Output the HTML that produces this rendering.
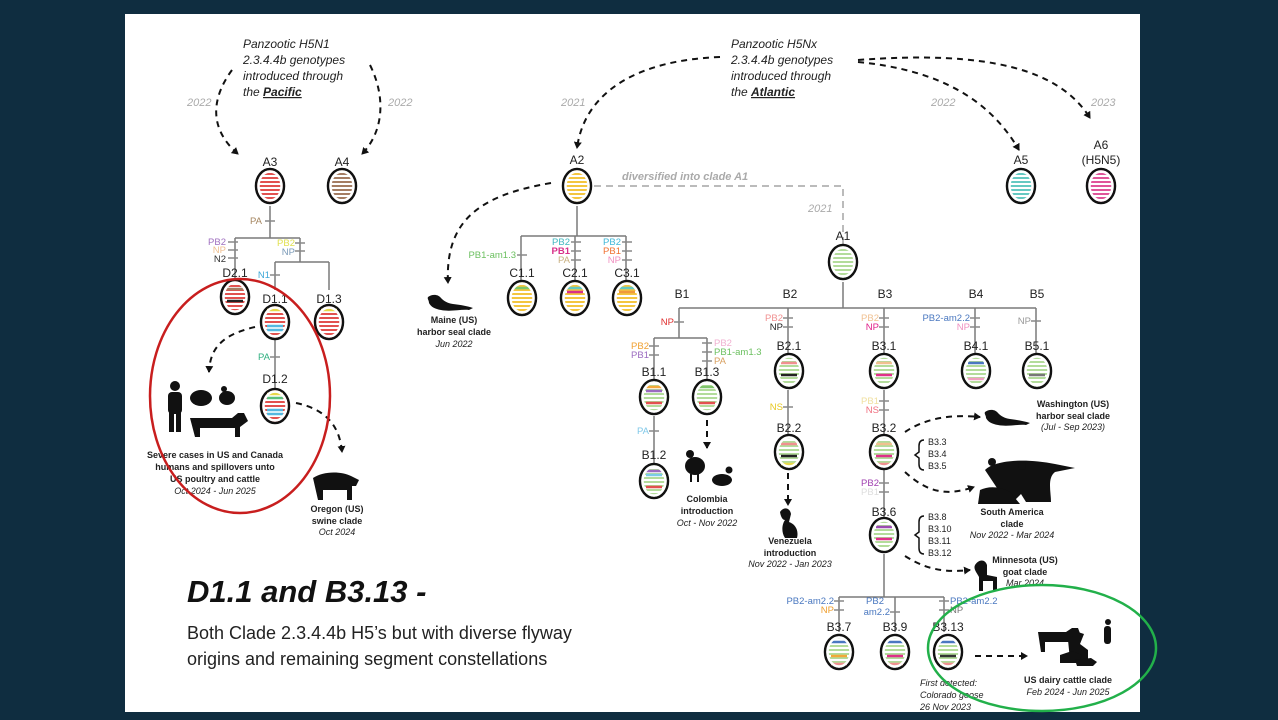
<!DOCTYPE html>
<html><head><meta charset="utf-8"><style>
html,body{margin:0;padding:0;background:#0f2d40;width:1278px;height:720px;overflow:hidden}
svg{display:block}
text{font-family:"Liberation Sans",Arial,sans-serif}
.n{font-size:12px;fill:#222}
.m{font-size:9.5px}
.it{font-style:italic}
.b{font-weight:bold}
.yr{font-size:11px;font-style:italic;fill:#aaa}
</style></head><body>
<svg width="1278" height="720" viewBox="0 0 1278 720" xmlns="http://www.w3.org/2000/svg">
<defs>
<pattern id="pr" width="4" height="4" patternUnits="userSpaceOnUse"><rect width="4" height="4" fill="#fff"/><rect y="1" width="4" height="2" fill="#e2514f"/></pattern>
<pattern id="pbr" width="4" height="4" patternUnits="userSpaceOnUse"><rect width="4" height="4" fill="#fff"/><rect y="1" width="4" height="2" fill="#a57d63"/></pattern>
<pattern id="py" width="4" height="4" patternUnits="userSpaceOnUse"><rect width="4" height="4" fill="#fff"/><rect y="1" width="4" height="2" fill="#f4c63f"/></pattern>
<pattern id="pt" width="4" height="4" patternUnits="userSpaceOnUse"><rect width="4" height="4" fill="#fff"/><rect y="1" width="4" height="2" fill="#64c9c2"/></pattern>
<pattern id="pp" width="4" height="4" patternUnits="userSpaceOnUse"><rect width="4" height="4" fill="#fff"/><rect y="1" width="4" height="2" fill="#e0559a"/></pattern>
<pattern id="pg" width="4" height="4" patternUnits="userSpaceOnUse"><rect width="4" height="4" fill="#fff"/><rect y="1" width="4" height="2" fill="#b3dc9b"/></pattern>
<marker id="ah" markerWidth="8" markerHeight="8" refX="6" refY="4" orient="auto" markerUnits="userSpaceOnUse"><path d="M0,0 L7,4 L0,8 Z" fill="#111"/></marker>
</defs>
<rect x="125" y="14" width="1015" height="698" fill="#fff"/>

<g stroke="#7a7a7a" stroke-width="1.5" fill="none">
<path d="M270 206V238M235 238H300M235 238V280M300 238V262M275 262H329M275 262V290M329 262V290M275 328V388"/>
<path d="M577 206V236M521 236H626M521 236V280M575 236V280M626 236V280"/>
<path d="M843 282V308M679 308H1036M679 308V338M654 338H707M654 338V379M707 338V379M654 416V465M788 308V353M788 390V434M884 308V353M884 390V434M884 470V517M884 554V597M839 597H944M839 597V632M895 597V632M944 597V632M975 308V353M1036 308V353"/>
</g>
<path d="M594 186H843V245" stroke="#bbb" stroke-width="2" stroke-dasharray="7,5" fill="none"/>
<text x="622" y="180" class="it b" font-size="11" fill="#aaa">diversified into clade A1</text>
<text x="808" y="212" class="yr">2021</text>

<g stroke="#111" stroke-width="2" stroke-dasharray="6,5" fill="none" marker-end="url(#ah)">
<path d="M232 70C210 100 210 130 238 154"/>
<path d="M370 65C385 95 385 130 362 154"/>
<path d="M720 57C640 60 585 90 577 148"/>
<path d="M858 62C940 70 990 100 1019 150"/>
<path d="M858 60C990 50 1060 70 1090 118"/>
<path d="M551 183C480 195 445 220 448 283"/>
<path d="M255 327C220 335 210 350 209 372"/>
<path d="M296 403C330 410 340 430 342 452"/>
<path d="M707 420V448"/>
<path d="M788 473V505"/>
<path d="M905 432C930 415 960 415 980 417"/>
<path d="M905 472C930 495 950 495 974 487"/>
<path d="M905 556C930 572 950 572 970 570"/>
<path d="M975 656H1027"/>
</g>

<g class="it" font-size="12" fill="#222">
<text x="243" y="48">Panzootic H5N1</text>
<text x="243" y="64">2.3.4.4b genotypes</text>
<text x="243" y="80">introduced through</text>
<text x="243" y="96">the <tspan font-weight="bold" text-decoration="underline">Pacific</tspan></text>
<text x="731" y="48">Panzootic H5Nx</text>
<text x="731" y="64">2.3.4.4b genotypes</text>
<text x="731" y="80">introduced through</text>
<text x="731" y="96">the <tspan font-weight="bold" text-decoration="underline">Atlantic</tspan></text>
</g>
<text x="187" y="106" class="yr">2022</text>
<text x="388" y="106" class="yr">2022</text>
<text x="561" y="106" class="yr">2021</text>
<text x="931" y="106" class="yr">2022</text>
<text x="1091" y="106" class="yr">2023</text>

<g class="n" text-anchor="middle">
<text x="270" y="166">A3</text><text x="342" y="166">A4</text><text x="577" y="164">A2</text>
<text x="1021" y="164">A5</text><text x="1101" y="149">A6</text><text x="1101" y="164">(H5N5)</text>
<text x="843" y="240">A1</text>
<text x="235" y="277">D2.1</text><text x="275" y="303">D1.1</text><text x="329" y="303">D1.3</text><text x="275" y="383">D1.2</text>
<text x="522" y="277">C1.1</text><text x="575" y="277">C2.1</text><text x="627" y="277">C3.1</text>
<text x="682" y="298">B1</text><text x="790" y="298">B2</text><text x="885" y="298">B3</text><text x="976" y="298">B4</text><text x="1037" y="298">B5</text>
<text x="654" y="376">B1.1</text><text x="707" y="376">B1.3</text><text x="654" y="459">B1.2</text>
<text x="789" y="350">B2.1</text><text x="789" y="432">B2.2</text>
<text x="884" y="350">B3.1</text><text x="884" y="432">B3.2</text><text x="884" y="516">B3.6</text>
<text x="976" y="350">B4.1</text><text x="1037" y="350">B5.1</text>
<text x="839" y="631">B3.7</text><text x="895" y="631">B3.9</text><text x="948" y="631">B3.13</text>
</g>

<g stroke="#111" stroke-width="2.5">
<ellipse cx="270" cy="186" rx="14" ry="17" fill="url(#pr)"/>
<ellipse cx="342" cy="186" rx="14" ry="17" fill="url(#pbr)"/>
<ellipse cx="577" cy="186" rx="14" ry="17" fill="url(#py)"/>
<ellipse cx="1021" cy="186" rx="14" ry="17" fill="url(#pt)"/>
<ellipse cx="1101" cy="186" rx="14" ry="17" fill="url(#pp)"/>
<ellipse cx="843" cy="262" rx="14" ry="17" fill="url(#pg)"/>
<ellipse cx="235" cy="297" rx="14" ry="17" fill="url(#pr)"/>
<ellipse cx="275" cy="322" rx="14" ry="17" fill="url(#pr)"/>
<ellipse cx="329" cy="322" rx="14" ry="17" fill="url(#pr)"/>
<ellipse cx="275" cy="406" rx="14" ry="17" fill="url(#pr)"/>
<ellipse cx="522" cy="298" rx="14" ry="17" fill="url(#py)"/>
<ellipse cx="575" cy="298" rx="14" ry="17" fill="url(#py)"/>
<ellipse cx="627" cy="298" rx="14" ry="17" fill="url(#py)"/>
<ellipse cx="654" cy="397" rx="14" ry="17" fill="url(#pg)"/>
<ellipse cx="707" cy="397" rx="14" ry="17" fill="url(#pg)"/>
<ellipse cx="654" cy="481" rx="14" ry="17" fill="url(#pg)"/>
<ellipse cx="789" cy="371" rx="14" ry="17" fill="url(#pg)"/>
<ellipse cx="789" cy="452" rx="14" ry="17" fill="url(#pg)"/>
<ellipse cx="884" cy="371" rx="14" ry="17" fill="url(#pg)"/>
<ellipse cx="884" cy="452" rx="14" ry="17" fill="url(#pg)"/>
<ellipse cx="884" cy="535" rx="14" ry="17" fill="url(#pg)"/>
<ellipse cx="976" cy="371" rx="14" ry="17" fill="url(#pg)"/>
<ellipse cx="1037" cy="371" rx="14" ry="17" fill="url(#pg)"/>
<ellipse cx="839" cy="652" rx="14" ry="17" fill="url(#pg)"/>
<ellipse cx="895" cy="652" rx="14" ry="17" fill="url(#pg)"/>
<ellipse cx="948" cy="652" rx="14" ry="17" fill="url(#pg)"/>
</g>
<g stroke-width="2.5">
<path d="M227 301h16" stroke="#222"/><path d="M227 289h16" stroke="#a57d63"/>
<path d="M267 310h16" stroke="#e8d84a"/><path d="M267 326h16" stroke="#55b8e0"/><path d="M267 330h16" stroke="#55b8e0"/>
<path d="M321 310h16" stroke="#e8d84a"/>
<path d="M267 394h16" stroke="#e8d84a"/><path d="M267 398h16" stroke="#5cc07c"/><path d="M267 410h16" stroke="#55b8e0"/><path d="M267 414h16" stroke="#55b8e0"/>
<path d="M514 288h16" stroke="#7fc66b"/>
<path d="M567 288h16" stroke="#64c9c2"/><path d="M567 292h16" stroke="#d8308a"/>
<path d="M619 288h16" stroke="#64c9c2"/><path d="M619 292h16" stroke="#f09a3a"/>
<path d="M646 387h16" stroke="#f2a93a"/><path d="M646 391h16" stroke="#9b6bc0"/><path d="M646 403h16" stroke="#e2514f"/>
<path d="M699 387h16" stroke="#7fc66b"/><path d="M699 403h16" stroke="#e2514f"/>
<path d="M646 471h16" stroke="#9b6bc0"/><path d="M646 475h16" stroke="#7ccbe8"/><path d="M646 487h16" stroke="#e2514f"/>
<path d="M781 363h16" stroke="#f09090"/><path d="M781 375h16" stroke="#222"/>
<path d="M781 444h16" stroke="#f09090"/><path d="M781 456h16" stroke="#222"/><path d="M781 464h16" stroke="#e8d84a"/>
<path d="M876 363h16" stroke="#f0c090"/><path d="M876 375h16" stroke="#e0308a"/>
<path d="M876 444h16" stroke="#f0c090"/><path d="M876 456h16" stroke="#e0308a"/><path d="M876 464h16" stroke="#f09090"/>
<path d="M876 527h16" stroke="#9b4bb0"/><path d="M876 539h16" stroke="#e0308a"/>
<path d="M968 363h16" stroke="#4a78c0"/><path d="M968 379h16" stroke="#f0a0c0"/>
<path d="M1029 375h16" stroke="#777"/>
<path d="M831 642h16" stroke="#4a78c0"/><path d="M831 656h16" stroke="#f2a93a"/><path d="M831 664h16" stroke="#f09090"/>
<path d="M887 642h16" stroke="#4a78c0"/><path d="M887 656h16" stroke="#e0308a"/><path d="M887 664h16" stroke="#f09090"/>
<path d="M940 642h16" stroke="#4a78c0"/><path d="M940 656h16" stroke="#333"/><path d="M940 664h16" stroke="#f09090"/>
</g>
<!-- white inner gap rings -->
<g stroke="#fff" stroke-width="2.5" fill="none">
<ellipse cx="270" cy="186" rx="11.5" ry="14.5"/><ellipse cx="342" cy="186" rx="11.5" ry="14.5"/><ellipse cx="577" cy="186" rx="11.5" ry="14.5"/>
<ellipse cx="1021" cy="186" rx="11.5" ry="14.5"/><ellipse cx="1101" cy="186" rx="11.5" ry="14.5"/><ellipse cx="843" cy="262" rx="11.5" ry="14.5"/>
<ellipse cx="235" cy="297" rx="11.5" ry="14.5"/><ellipse cx="275" cy="322" rx="11.5" ry="14.5"/><ellipse cx="329" cy="322" rx="11.5" ry="14.5"/>
<ellipse cx="275" cy="406" rx="11.5" ry="14.5"/><ellipse cx="522" cy="298" rx="11.5" ry="14.5"/><ellipse cx="575" cy="298" rx="11.5" ry="14.5"/>
<ellipse cx="627" cy="298" rx="11.5" ry="14.5"/><ellipse cx="654" cy="397" rx="11.5" ry="14.5"/><ellipse cx="707" cy="397" rx="11.5" ry="14.5"/>
<ellipse cx="654" cy="481" rx="11.5" ry="14.5"/><ellipse cx="789" cy="371" rx="11.5" ry="14.5"/><ellipse cx="789" cy="452" rx="11.5" ry="14.5"/>
<ellipse cx="884" cy="371" rx="11.5" ry="14.5"/><ellipse cx="884" cy="452" rx="11.5" ry="14.5"/><ellipse cx="884" cy="535" rx="11.5" ry="14.5"/>
<ellipse cx="976" cy="371" rx="11.5" ry="14.5"/><ellipse cx="1037" cy="371" rx="11.5" ry="14.5"/><ellipse cx="839" cy="652" rx="11.5" ry="14.5"/>
<ellipse cx="895" cy="652" rx="11.5" ry="14.5"/><ellipse cx="948" cy="652" rx="11.5" ry="14.5"/>
</g>

<g class="m" text-anchor="end">
<text x="262" y="224" fill="#a58660">PA</text>
<text x="226" y="245" fill="#a070c0">PB2</text><text x="226" y="253" fill="#f0c090">NP</text><text x="226" y="262" fill="#333">N2</text>
<text x="295" y="246" fill="#e0e050">PB2</text><text x="295" y="255" fill="#7a9ab8">NP</text>
<text x="270" y="278" fill="#40a8d8">N1</text>
<text x="270" y="360" fill="#30b080">PA</text>
<text x="516" y="258" fill="#6cc060">PB1-am1.3</text>
<text x="570" y="245" fill="#40b8c0">PB2</text><text x="570" y="254" fill="#d8308a" font-weight="bold">PB1</text><text x="570" y="263" fill="#c8b080">PA</text>
<text x="621" y="245" fill="#40b8d8">PB2</text><text x="621" y="254" fill="#f07030">PB1</text><text x="621" y="263" fill="#f090c0">NP</text>
<text x="674" y="325" fill="#e03030">NP</text>
<text x="649" y="349" fill="#f0a030">PB2</text><text x="649" y="358" fill="#9b6bc0">PB1</text>
<text x="649" y="434" fill="#80c8e8">PA</text>
<text x="783" y="321" fill="#f09090">PB2</text><text x="783" y="330" fill="#222">NP</text>
<text x="783" y="410" fill="#e8c820">NS</text>
<text x="879" y="321" fill="#f0c090">PB2</text><text x="879" y="330" fill="#e0208a">NP</text>
<text x="879" y="404" fill="#f0e0a0">PB1</text><text x="879" y="413" fill="#f07080">NS</text>
<text x="879" y="486" fill="#a040b0">PB2</text><text x="879" y="495" fill="#ddd">PB1</text>
<text x="970" y="321" fill="#4a78c0">PB2-am2.2</text><text x="970" y="330" fill="#f090c0">NP</text>
<text x="1031" y="324" fill="#999">NP</text>
<text x="834" y="604" fill="#4a78c0">PB2-am2.2</text><text x="834" y="613" fill="#f0a030">NP</text>
<text x="884" y="604" fill="#4a78c0">PB2</text><text x="890" y="615" fill="#4a78c0">am2.2</text>
</g>
<g class="m" text-anchor="start">
<text x="714" y="346" fill="#f0b0d0">PB2</text><text x="714" y="355" fill="#6cc060">PB1-am1.3</text><text x="714" y="364" fill="#d8a060">PA</text>
<text x="950" y="604" fill="#4a78c0">PB2-am2.2</text><text x="950" y="613" fill="#777">NP</text>
</g>
<g stroke-width="1.5">
<path d="M265 221h10M228 242h10M228 250h10M228 258h10M295 243h10M295 251h10M270 275h10M270 357h10M517 255h10M571 242h10M571 251h10M571 260h10M622 242h10M622 251h10M622 260h10M674 322h10M649 346h10M649 355h10M649 431h10M702 343h10M702 352h10M702 361h10M783 318h10M783 327h10M783 407h10M879 318h10M879 327h10M879 401h10M879 410h10M879 483h10M879 492h10M970 318h10M970 327h10M1031 321h10M834 601h10M834 610h10M890 612h10M939 601h10M939 610h10" stroke="#888"/>
</g>

<g font-size="9" text-anchor="middle" fill="#222">
<text x="454" y="323" class="b">Maine (US)</text><text x="454" y="335" class="b">harbor seal clade</text><text x="454" y="347" class="it">Jun 2022</text>
<text x="215" y="458" class="b">Severe cases in US and Canada</text><text x="215" y="470" class="b">humans and spillovers unto</text><text x="215" y="482" class="b">US poultry and cattle</text><text x="215" y="494" class="it">Oct 2024 - Jun 2025</text>
<text x="337" y="512" class="b">Oregon (US)</text><text x="337" y="524" class="b">swine clade</text><text x="337" y="535" class="it">Oct 2024</text>
<text x="707" y="502" class="b">Colombia</text><text x="707" y="514" class="b">introduction</text><text x="707" y="526" class="it">Oct - Nov 2022</text>
<text x="790" y="544" class="b">Venezuela</text><text x="790" y="556" class="b">introduction</text><text x="790" y="567" class="it">Nov 2022 - Jan 2023</text>
<text x="1073" y="407" class="b">Washington (US)</text><text x="1073" y="419" class="b">harbor seal clade</text><text x="1073" y="430" class="it">(Jul - Sep 2023)</text>
<text x="1012" y="515" class="b">South America</text><text x="1012" y="527" class="b">clade</text><text x="1012" y="538" class="it">Nov 2022 - Mar 2024</text>
<text x="1025" y="563" class="b">Minnesota (US)</text><text x="1025" y="575" class="b">goat clade</text><text x="1025" y="586" class="it">Mar 2024</text>
<text x="1068" y="683" class="b">US dairy cattle clade</text><text x="1068" y="695" class="it">Feb 2024 - Jun 2025</text>
</g>
<g font-size="9" class="it" fill="#222">
<text x="920" y="686">First detected:</text><text x="920" y="698">Colorado goose</text><text x="920" y="710">26 Nov 2023</text>
</g>
<g font-size="9" fill="#222">
<text x="928" y="445">B3.3</text><text x="928" y="457">B3.4</text><text x="928" y="469">B3.5</text>
<text x="928" y="520">B3.8</text><text x="928" y="532">B3.10</text><text x="928" y="544">B3.11</text><text x="928" y="556">B3.12</text>
</g>
<g stroke="#111" stroke-width="1.5" fill="none">
<path d="M924 440q-5 0-5 6v6l-4 3l4 3v6q0 6 5 6"/>
<path d="M924 516q-5 0-5 6v10l-4 3l4 3v10q0 6 5 6"/>
</g>

<g fill="#111">
<path d="M428 297c4-3 10-3 13 1c3 3 6 5 12 6c8 1 14 2 20 4l-4 2c-8-1-18 2-28 0c-6-1-10-3-12-7c0-3-2-4-1-6z"/>
<path d="M985 412c4-3 10-3 13 1c3 3 6 5 12 6c8 1 14 2 20 4l-4 2c-8-1-18 2-28 0c-6-1-10-3-12-7c0-3-2-4-1-6z"/>
<ellipse cx="175" cy="386" rx="5" ry="5"/><rect x="168" y="392" width="14" height="22" rx="4"/><rect x="169" y="412" width="5" height="20"/><rect x="176" y="412" width="5" height="20"/>
<ellipse cx="201" cy="398" rx="11" ry="8"/><ellipse cx="227" cy="398" rx="8" ry="7"/><circle cx="224" cy="389" r="3"/>
<path d="M190 418h42l6-5h6l4 8l-8 6v10h-5v-9h-35v9h-5z"/>
<path d="M313 478c10-7 28-7 38-2l8 4-3 6h-4v14h-5v-10h-24v10h-5z"/>
<ellipse cx="695" cy="466" rx="10" ry="9"/><circle cx="690" cy="454" r="4"/><rect x="690" y="474" width="2" height="8"/><rect x="697" y="474" width="2" height="8"/>
<ellipse cx="722" cy="480" rx="10" ry="6"/><circle cx="729" cy="470" r="3.5"/>
<path d="M780 512c4-6 10-4 11 2l-2 8c6 2 10 8 8 16h-12c-4-6-3-14 0-18c-2 0-4-2-5-8z"/>
<path d="M985 470c10-10 40-12 70-6l20 4l-20 4c-8 6-4 20-4 30h-25l-5-8l-8 8h-22l6-14z"/>
<path d="M980 490c8-4 20-4 30 2l10 12h-42z"/><circle cx="992" cy="462" r="4"/><circle cx="1022" cy="466" r="4"/>
<path d="M975 565c4-6 10-6 12 0v10l10 2v14h-4v-10h-10v10h-4v-14c-2-4-6-8-4-12z"/>
<path d="M1038 632h28l6-4h6l3 8l-6 4v12h-4v-10h-26v10h-4z"/>
<path d="M1068 640l10-8l6 2l-4 10l8 6v10h-18z"/><circle cx="1108" cy="622" r="3"/><rect x="1104" y="626" width="7" height="18" rx="3"/>
<path d="M1060 655l12-4l10 4l-4 8h-18z"/><path d="M1075 660l16-2l6 4l-4 4h-16z"/>
</g>

<ellipse cx="240" cy="396" rx="90" ry="117" fill="none" stroke="#c81e1e" stroke-width="2.5"/>
<ellipse cx="1042" cy="648" rx="114" ry="63" fill="none" stroke="#22b04a" stroke-width="2.5"/>

<text x="187" y="602" font-size="31" font-weight="bold" font-style="italic" fill="#111">D1.1 and B3.13  -</text>
<text x="187" y="639" font-size="18" fill="#222">Both Clade 2.3.4.4b H5’s but with diverse flyway</text>
<text x="187" y="665" font-size="18" fill="#222">origins and remaining segment constellations</text>
</svg>
</body></html>
